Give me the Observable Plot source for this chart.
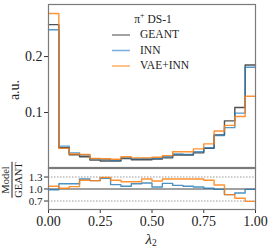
<!DOCTYPE html>
<html><head><meta charset="utf-8">
<script src="https://cdn.jsdelivr.net/npm/d3@7"></script>
<script src="https://cdn.jsdelivr.net/npm/@observablehq/plot@0.6"></script>
<style>
body{margin:0;background:#fff;}
#wrap{position:relative;width:274px;height:247px;font-family:"Liberation Serif",serif;color:#222;}
#wrap svg{position:absolute;left:0;overflow:visible;}
.lbl{position:absolute;white-space:nowrap;line-height:1;}
</style></head>
<body><div id="wrap"></div>
<script>
// ---- data (20 bins over λ2 in [0,1]) ----
const binLow = [0,0.05,0.10,0.15,0.20,0.25,0.30,0.35,0.40,0.45,0.50,0.55,0.60,0.65,0.70,0.75,0.80,0.85,0.90,0.95];
const binHigh = 1.0;
const geant = [0.257,0.037,0.0245,0.021,0.015,0.0135,0.0135,0.018,0.0155,0.0155,0.017,0.019,0.024,0.024,0.028,0.036,0.060,0.085,0.109,0.185];
const inn   = [0.248,0.040,0.028,0.024,0.017,0.016,0.0145,0.019,0.0175,0.018,0.018,0.021,0.026,0.025,0.030,0.037,0.059,0.073,0.099,0.181];
const vae   = [0.277,0.036,0.026,0.025,0.018,0.0175,0.0165,0.021,0.019,0.019,0.020,0.023,0.030,0.030,0.035,0.044,0.067,0.077,0.093,0.129];
const ratioInn = [0.98,1.13,1.13,1.25,1.21,1.27,1.11,1.07,1.13,1.15,1.05,1.14,1.09,1.07,1.05,1.02,0.99,0.86,0.90,0.99];
const ratioVae = [1.07,1.02,1.06,1.22,1.21,1.29,1.22,1.18,1.18,1.25,1.20,1.25,1.25,1.25,1.25,1.22,1.10,0.86,0.77,0.69];
const xTicks = [0,0.25,0.5,0.75,1.0];
const yTicks = [0.1,0.2];
const ratioTicks = [0.7,1.0,1.3];
const seriesNames = ["GEANT","INN","VAE+INN"];
const colors = ["#333333","#1f77b4","#ff7f0e"];
const legendColors = ["#8c8c8c","#7fb2da","#ffb36e"];

function steps(vals){
  const pts = vals.map((v,i)=>({x:binLow[i], y:v}));
  pts.push({x:binHigh, y:vals[vals.length-1]});
  return pts;
}
const font = {fontFamily:"Liberation Serif, serif", fontSize:"14px", color:"#222", background:"transparent", overflow:"visible"};
const wrap = document.getElementById("wrap");

const main = Plot.plot({
  width:274, height:168, marginLeft:48, marginRight:19, marginTop:4, marginBottom:0,
  style:font,
  x:{domain:[0,1], axis:null},
  y:{domain:[0,0.293], axis:null},
  marks:[
    Plot.axisY(yTicks,{tickSize:4, tickPadding:2, tickFormat:d3.format(".1f"), label:null, stroke:"#333"}),
    Plot.line(steps(geant),{x:"x",y:"y",curve:"step-after",stroke:colors[0],strokeWidth:1.4,strokeOpacity:0.85}),
    Plot.line(steps(inn),{x:"x",y:"y",curve:"step-after",stroke:colors[1],strokeWidth:1.4,strokeOpacity:0.75}),
    Plot.line(steps(vae),{x:"x",y:"y",curve:"step-after",stroke:colors[2],strokeWidth:1.4,strokeOpacity:0.85}),
    Plot.frame({stroke:"#7a7a7a",strokeWidth:1.2})
  ]
});
main.style.top = "0px";
wrap.appendChild(main);

const ratio = Plot.plot({
  width:274, height:80, marginLeft:48, marginRight:19, marginTop:1, marginBottom:37,
  style:font,
  x:{domain:[0,1], axis:null},
  y:{domain:[0.4875,1.5375], axis:null},
  marks:[
    Plot.ruleY([ratioTicks[0],ratioTicks[2]],{stroke:"#999",strokeWidth:1,strokeDasharray:"1.5,1.5"}),
    Plot.ruleY([ratioTicks[1]],{stroke:"#444",strokeWidth:1.1}),
    Plot.axisY(ratioTicks,{tickSize:4, tickPadding:2, tickFormat:d3.format(".1f"), label:null, stroke:"#333", fontSize:11}),
    Plot.axisX(xTicks,{tickSize:4, tickPadding:3, tickFormat:d3.format(".2f"), label:null, stroke:"#333"}),
    Plot.line(steps(ratioInn),{x:"x",y:"y",curve:"step-after",stroke:colors[1],strokeWidth:1.4,strokeOpacity:0.8}),
    Plot.line(steps(ratioVae),{x:"x",y:"y",curve:"step-after",stroke:colors[2],strokeWidth:1.4,strokeOpacity:0.85}),
    Plot.frame({stroke:"#7a7a7a",strokeWidth:1.2})
  ]
});
ratio.style.top = "166px";
wrap.appendChild(ratio);

function label(html, css){
  const d = document.createElement("div");
  d.className = "lbl"; d.innerHTML = html;
  Object.assign(d.style, css);
  wrap.appendChild(d);
  return d;
}
// axis labels
label("a.u.",{left:"15px",top:"90px",fontSize:"14px",transform:"translate(-50%,-50%) rotate(-90deg)"});
label('<span style="display:inline-flex;flex-direction:column;align-items:center;line-height:1"><span>Model</span><span style="border-top:1px solid #222;padding-top:1px">GEANT</span></span>',
  {left:"12px",top:"180px",fontSize:"10.5px",transform:"translate(-50%,-50%) rotate(-90deg)"});
label('<i>λ</i><span style="font-size:9.5px;position:relative;top:2px">2</span>',{left:"151px",top:"239px",fontSize:"15px",transform:"translate(-50%,-50%)"});

// legend
label('π<sup style="font-size:8px">+</sup> DS-1',{left:"153px",top:"19px",fontSize:"11.5px",transform:"translate(-50%,-50%)"});
const legY = [35,50.5,66];
const lsvg = d3.select(wrap).append("svg").attr("width",274).attr("height",247).style("top","0px").style("pointer-events","none");
seriesNames.forEach((n,i)=>{
  lsvg.append("line").attr("x1",112).attr("x2",130).attr("y1",legY[i]).attr("y2",legY[i])
    .attr("stroke",legendColors[i]).attr("stroke-width",1.6);
  label(n,{left:"140px",top:legY[i]+"px",fontSize:"11.5px",transform:"translateY(-50%)"});
});
</script></body></html>
